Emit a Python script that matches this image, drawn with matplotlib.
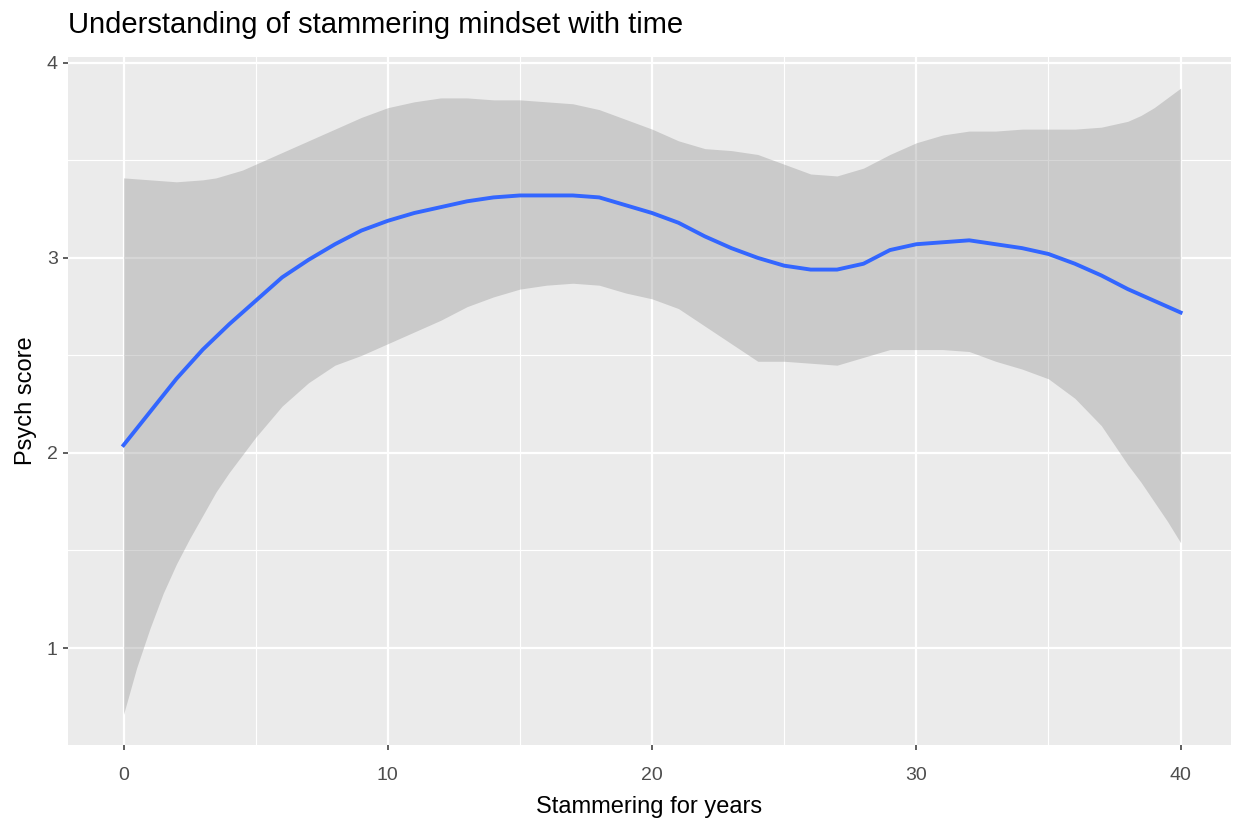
import matplotlib
matplotlib.use('Agg')
import matplotlib.pyplot as plt
from matplotlib.ticker import MultipleLocator

# values (loess fit with its confidence band)
years = list(range(0, 41))
fit = [2.04, 2.21, 2.38, 2.53, 2.66, 2.78, 2.90, 2.99, 3.07, 3.14,
       3.19, 3.23, 3.26, 3.29, 3.31, 3.32, 3.32, 3.32, 3.31, 3.27,
       3.23, 3.18, 3.11, 3.05, 3.00, 2.96, 2.94, 2.94, 2.97, 3.04,
       3.07, 3.08, 3.09, 3.07, 3.05, 3.02, 2.97, 2.91, 2.84, 2.78,
       2.72]

# band read a bit denser where it bends hard
band_years = [0, 0.5, 1, 1.5, 2, 2.5, 3, 3.5, 4, 4.5] + list(range(5, 38)) + [38, 38.5, 39, 39.5, 40]
band_upper = [3.41, 3.405, 3.40, 3.395, 3.39, 3.395, 3.40, 3.41, 3.43, 3.45,
              3.48, 3.54, 3.60, 3.66, 3.72, 3.77, 3.80, 3.82, 3.82, 3.81,
              3.81, 3.80, 3.79, 3.76, 3.71, 3.66, 3.60, 3.56, 3.55, 3.53,
              3.48, 3.43, 3.42, 3.46, 3.53, 3.59, 3.63, 3.65, 3.65, 3.66,
              3.66, 3.66, 3.67,
              3.70, 3.73, 3.77, 3.82, 3.87]
band_lower = [0.66, 0.90, 1.10, 1.28, 1.43, 1.56, 1.68, 1.80, 1.90, 1.99,
              2.08, 2.24, 2.36, 2.45, 2.50, 2.56, 2.62, 2.68, 2.75, 2.80,
              2.84, 2.86, 2.87, 2.86, 2.82, 2.79, 2.74, 2.65, 2.56, 2.47,
              2.47, 2.46, 2.45, 2.49, 2.53, 2.53, 2.53, 2.52, 2.47, 2.43,
              2.38, 2.28, 2.14,
              1.94, 1.85, 1.75, 1.65, 1.54]

x_ticks = [0, 10, 20, 30, 40]
y_ticks = [1, 2, 3, 4]

plt.rcParams['font.family'] = ['Liberation Sans', 'DejaVu Sans']

fig = plt.figure(figsize=(12.37, 8.23), dpi=100, facecolor='white')
ax = fig.add_axes([0.055, 0.0948, 0.940, 0.836])
ax.set_facecolor('#EBEBEB')

# band + fitted line
ax.fill_between(band_years, band_lower, band_upper, color='#999999', alpha=0.4,
                linewidth=0, zorder=2)
ax.plot(years, fit, color='#3366FF', linewidth=2.8, solid_joinstyle='round', zorder=3)

ax.set_xlim(-2.1, 41.9)
ax.set_ylim(0.503, 4.03)
ax.set_xticks(x_ticks)
ax.set_yticks(y_ticks)
ax.xaxis.set_minor_locator(MultipleLocator(5))
ax.yaxis.set_minor_locator(MultipleLocator(0.5))

# ggplot-like grid
ax.grid(which='major', color='white', linewidth=1.6, zorder=1)
ax.grid(which='minor', color='white', linewidth=0.8, zorder=1)
ax.set_axisbelow(True)
for s in ax.spines.values():
    s.set_visible(False)

ax.tick_params(which='major', length=3.5, width=1.1, color='#333333',
               labelcolor='#4D4D4D', labelsize=14, pad=4)
ax.tick_params(axis='x', which='major', pad=12)
ax.tick_params(which='minor', length=0)

ax.set_xlabel('Stammering for years', fontsize=17, color='black', labelpad=9)
ax.set_ylabel('Psych score', fontsize=17, color='black', labelpad=7)
fig.text(0.055, 0.960, 'Understanding of stammering mindset with time',
         fontsize=21, color='black', ha='left', va='baseline')

fig.savefig('out.png', dpi=100, facecolor='white')
